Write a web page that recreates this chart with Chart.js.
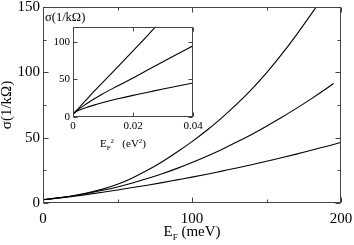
<!DOCTYPE html>
<html>
<head>
<meta charset="utf-8">
<script src="https://cdn.jsdelivr.net/npm/chart.js@4.4.1/dist/chart.umd.min.js"></script>
<style>
  html, body { margin: 0; padding: 0; background: #fff; }
  #wrap { position: relative; width: 354px; height: 245px; }
  #main { position: absolute; left: 0; top: 0; }
  #inset { position: absolute; left: 45px; top: 7px; }
</style>
</head>
<body>
<div id="wrap">
  <canvas id="main" width="354" height="245"></canvas>
  <canvas id="inset" width="168" height="145"></canvas>
</div>
<script>
// main panel: sigma (1/kOhm) against E_F (meV)
const energy = [0, 10, 20, 30, 40, 50, 60, 70, 80, 90, 100, 110, 120, 130, 140, 150, 160, 170, 180, 190, 195, 200];
const sigmaHigh = [2.5, 3.9, 5.6, 7.8, 10.6, 14.3, 19.2, 25.0, 31.6, 39.0, 47, 55.7, 65.2, 75.6, 87, 99.6, 113.5, 128.5, 144.5, 161, null, null];
const sigmaMid = [2.5, 3.8, 5.4, 7.4, 9.7, 12.3, 15.3, 18.7, 22.4, 26.5, 31, 35.8, 41, 46.6, 52.5, 58.8, 65.4, 72.4, 79.7, 87.4, 91.5, null];
const sigmaLow = [2.5, 3.7, 5.1, 6.6, 8.2, 10.0, 11.8, 13.6, 15.6, 17.7, 19.8, 22.0, 24.4, 26.8, 29.3, 32.0, 34.6, 37.4, 40.4, 43.3, 44.8, 46.4];

// inset: the same curves against E_F^2 (eV^2)
const energySq = [0, 0.0001, 0.0004, 0.001, 0.002, 0.004, 0.007, 0.01, 0.015, 0.02, 0.025, 0.03, 0.035, 0.04];
const insetHigh = [2.5, 3.9, 5.6, 8.0, 12.3, 21, 34, 46.5, 67, 88, 109, 131, null, null];
const insetMid = [2.5, 3.8, 5.4, 7.6, 10.8, 16.3, 23.9, 31, 41.5, 52, 62.8, 73.5, 84, 94.6];
const insetLow = [2.5, 3.7, 5.1, 7.0, 9.0, 12.0, 15.8, 19.2, 24.2, 28.8, 33.0, 37.2, 41.2, 45.2];

// tick values
const mainXMajor = [0, 100, 200];
const mainXMinor = [50, 150];
const mainYMajor = [0, 50, 100, 150];
const mainYMinor = [25, 75, 125];
const insetXMajor = [0, 0.02, 0.04];
const insetYMajor = [0, 50, 100];

const SERIF = "'Liberation Serif', 'DejaVu Serif', serif";

function points(xs, ys) {
  return xs.map((x, i) => ({ x: x, y: ys[i] }));
}

function curve(data) {
  return {
    data: data,
    borderColor: '#000',
    borderWidth: 1.1,
    pointRadius: 0,
    fill: false,
    cubicInterpolationMode: 'monotone'
  };
}

// box round the plot with ticks pointing inwards on all four sides
function frameTicks(xMajor, xMinor, yMajor, yMinor, big, small) {
  return {
    id: 'frameTicks',
    afterDatasetsDraw(chart) {
      const { ctx, chartArea: a, scales } = chart;
      const l = Math.round(a.left) + 0.5, r = Math.round(a.right) - 0.5;
      const t = Math.round(a.top) + 0.5, b = Math.round(a.bottom) - 0.5;
      ctx.save();
      ctx.strokeStyle = '#444';
      ctx.lineWidth = 1;
      ctx.beginPath();
      const xt = (vals, len) => vals.forEach(v => {
        const px = Math.round(scales.x.getPixelForValue(v)) + 0.5;
        ctx.moveTo(px, b); ctx.lineTo(px, b - len);
        ctx.moveTo(px, t); ctx.lineTo(px, t + len);
      });
      const yt = (vals, len) => vals.forEach(v => {
        const py = Math.round(scales.y.getPixelForValue(v)) + 0.5;
        ctx.moveTo(l, py); ctx.lineTo(l + len, py);
        ctx.moveTo(r, py); ctx.lineTo(r - len, py);
      });
      xt(xMajor, big); xt(xMinor, small);
      yt(yMajor, big); yt(yMinor, small);
      ctx.stroke();
      ctx.strokeRect(l, t, r - l, b - t);
      ctx.restore();
    }
  };
}

// axis title with sub / superscripts
function richTitle(parts, cx, baseline) {
  return {
    id: 'richTitle',
    afterDraw(chart) {
      const ctx = chart.ctx;
      ctx.save();
      ctx.fillStyle = '#000';
      ctx.textBaseline = 'alphabetic';
      let total = 0;
      parts.forEach(p => {
        ctx.font = p.size + 'px ' + SERIF;
        p.w = ctx.measureText(p.text).width;
        total += p.w;
      });
      let x = cx - total / 2;
      parts.forEach(p => {
        ctx.font = p.size + 'px ' + SERIF;
        ctx.fillText(p.text, x, baseline + (p.dy || 0));
        x += p.w;
      });
      ctx.restore();
    }
  };
}

Chart.defaults.font.family = SERIF;
Chart.defaults.color = '#000';

new Chart(document.getElementById('main'), {
  type: 'line',
  data: {
    datasets: [curve(points(energy, sigmaHigh)), curve(points(energy, sigmaMid)), curve(points(energy, sigmaLow))]
  },
  options: {
    responsive: false,
    animation: false,
    devicePixelRatio: 1,
    layout: { padding: { top: 7, right: 13, left: 0, bottom: 0 } },
    plugins: { legend: { display: false }, tooltip: { enabled: false } },
    scales: {
      x: {
        type: 'linear',
        min: 0,
        max: 200,
        grid: { display: false, drawTicks: false },
        border: { display: false },
        ticks: { stepSize: 100, padding: 7, maxRotation: 0, minRotation: 0, font: { size: 15 } },
        afterFit(s) { s.height = 42; s.paddingLeft = 0; s.paddingRight = 0; }
      },
      y: {
        min: 0,
        max: 150,
        grid: { display: false, drawTicks: false },
        border: { display: false },
        ticks: { stepSize: 50, padding: 3, font: { size: 15 } },
        title: { display: true, text: 'σ(1/kΩ)', font: { size: 15, lineHeight: 1 }, padding: 0 },
        afterFit(s) { s.width = 43; s.paddingTop = 0; s.paddingBottom = 0; }
      }
    }
  },
  plugins: [
    frameTicks(mainXMajor, mainXMinor, mainYMajor, mainYMinor, 5, 3),
    richTitle([{ text: 'E', size: 15 }, { text: 'F', size: 9, dy: 3.5 }, { text: ' (meV)', size: 15 }], 192, 236)
  ]
});

new Chart(document.getElementById('inset'), {
  type: 'line',
  data: {
    datasets: [curve(points(energySq, insetHigh)), curve(points(energySq, insetMid)), curve(points(energySq, insetLow))]
  },
  options: {
    responsive: false,
    animation: false,
    devicePixelRatio: 1,
    layout: { padding: { top: 0, right: 20, left: 0, bottom: 0 } },
    plugins: {
      legend: { display: false },
      tooltip: { enabled: false },
      title: { display: true, text: 'σ(1/kΩ)', align: 'start', font: { size: 12.5, weight: 'normal', lineHeight: 1.1 }, padding: { top: 4, bottom: 2 } }
    },
    scales: {
      x: {
        type: 'linear',
        min: 0,
        max: 0.04,
        grid: { display: false, drawTicks: false },
        border: { display: false },
        ticks: { stepSize: 0.02, padding: 3, maxRotation: 0, minRotation: 0, font: { size: 11 } },
        afterFit(s) { s.height = 35; s.paddingLeft = 0; s.paddingRight = 0; }
      },
      y: {
        min: 0,
        max: 120,
        grid: { display: false, drawTicks: false },
        border: { display: false },
        ticks: { stepSize: 50, padding: 3, font: { size: 11 } },
        afterBuildTicks(s) { s.ticks = s.ticks.filter(t => insetYMajor.includes(t.value)); },
        afterFit(s) { s.width = 28; s.paddingTop = 0; s.paddingBottom = 0; }
      }
    }
  },
  plugins: [
    frameTicks(insetXMajor, [], insetYMajor, [], 4, 0),
    richTitle([
      { text: 'E', size: 11 }, { text: 'F', size: 7, dy: 3 }, { text: '2', size: 7, dy: -4 },
      { text: '   (eV', size: 11 }, { text: '2', size: 7, dy: -4 }, { text: ')', size: 11 }
    ], 78, 140)
  ]
});
</script>
</body>
</html>
